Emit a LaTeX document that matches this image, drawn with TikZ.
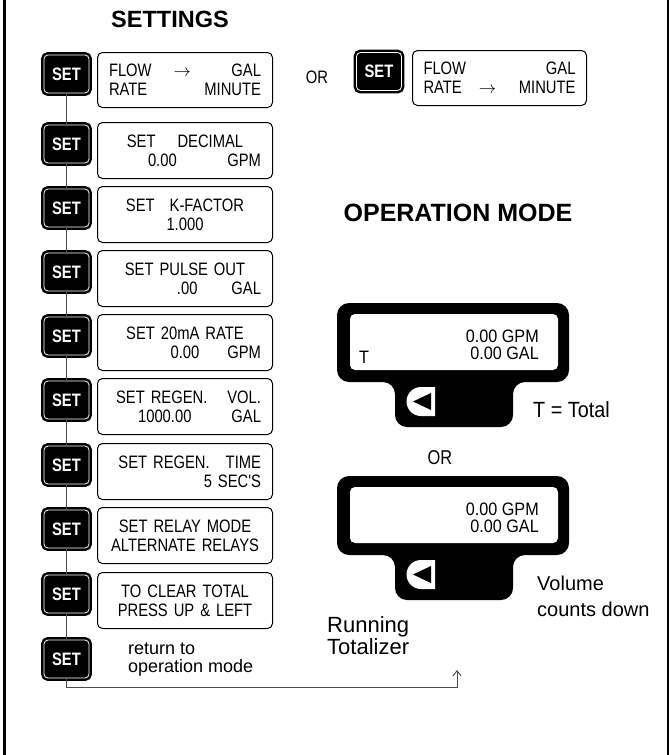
\documentclass[tikz,border=0pt]{standalone}
\usepackage{fontspec}
\setmainfont{Liberation Sans}
\newfontfamily\condfont[FakeStretch=0.82]{Liberation Sans}
\newfontfamily\readfont[FakeStretch=0.9]{Liberation Sans}
\usetikzlibrary{arrows.meta,positioning}
\newcommand\push{\hspace*{0pt plus 1filll}}

\tikzset{
  setbtn/.style={fill=black, draw=black, line width=2.5pt, double=white,
    double distance=0.8pt, rounded corners=4pt, minimum width=45pt,
    minimum height=38pt, inner sep=0pt, text=white,
    font=\condfont\bfseries\fontsize{18pt}{18pt}\selectfont},
  lcd/.style={draw=black, line width=1pt, rounded corners=5pt, anchor=north west,
    minimum width=175pt, minimum height=56pt, text width=152pt, align=center,
    inner sep=0pt, font=\condfont\fontsize{18pt}{19pt}\selectfont},
  readout/.style={align=right, anchor=east, inner sep=0pt,
    font=\readfont\fontsize{18pt}{17pt}\selectfont},
  link/.style={draw=black!70, line width=1pt},
  title/.style={anchor=base, inner sep=0pt, font=\bfseries\fontsize{23.5pt}{24pt}\selectfont},
  label/.style={align=left, anchor=west, inner sep=0pt}
}

\begin{document}
\begin{tikzpicture}[x=1pt, y=-1pt, >={Straight Barb[length=5pt,width=8pt]}]
\useasboundingbox (0,0) rectangle (670,755);
% frame
\draw[line width=2.5pt] (4.5,0) -- (4.5,755);
\draw[line width=2.5pt] (668,0) -- (668,755);

%--- Settings column ---
\node[title] (settings) at (170,27) {SETTINGS};
\foreach \yy [count=\i] in {52,122,186,250,314,378,443,507,572,637}
  \node[setbtn] (s\i) at (66.5,\yy+22) {SET};
\foreach \i [count=\j from 2] in {1,...,9}
  \draw[link] (s\i.south) -- (s\j.north);

\node[lcd, minimum height=55pt] (b1) at (97,52) {FLOW\hspace{22pt}$\rightarrow$\push GAL\\RATE\push MINUTE};
\node[lcd] (b2) at (97,122) {SET\hspace{22pt}DECIMAL\\\hspace*{39pt}0.00\push GPM};
\node[lcd] (b3) at (97,186) {SET\hspace{15pt}K-FACTOR\\1.000\hspace*{20pt}};
\node[lcd] (b4) at (97,250) {SET PULSE OUT\\\push .00\hspace{34pt}GAL};
\node[lcd] (b5) at (97,314) {SET 20mA RATE\\\push 0.00\hspace{28pt}GPM};
\node[lcd] (b6) at (97,378) {\push SET REGEN.\hspace{20pt}VOL.\\\push 1000.00\hspace{40pt}GAL};
\node[lcd] (b7) at (97,443) {\push SET REGEN.\hspace{16pt}TIME\hspace*{7pt}\\\push 5 SEC'S\hspace*{7pt}};
\node[lcd] (b8) at (97,507) {SET RELAY MODE\\ALTERNATE RELAYS};
\node[lcd] (b9) at (97,572) {TO CLEAR TOTAL\\PRESS UP \& LEFT};
\node[label, font=\fontsize{18pt}{18pt}\selectfont] (retlabel) at (128,660) {return to\\operation mode};

% return path
\coordinate (bend) at (66.5,687);
\coordinate (ret) at (457,670);
\draw[link,->] (s10.south) -- (bend) -| (ret);

%--- Alternative first step ---
\node[anchor=base, inner sep=0pt, font=\condfont\fontsize{18pt}{18pt}\selectfont] (ortop) at (317,83) {OR};
\node[setbtn] (setalt) at (379,71.5) {SET};
\node[lcd, minimum width=174pt, minimum height=55pt] (lcdalt) at (412,50) {FLOW\push GAL\\RATE\hspace{17pt}$\rightarrow$\push MINUTE};

%--- Operation mode ---
\node[title, font=\bfseries\fontsize{25pt}{25pt}\selectfont] (opmode) at (458,221) {OPERATION MODE};
\foreach \yy [count=\i] in {303,476}{
  \begin{scope}[shift={(337,\yy)}]
    \fill[rounded corners=12pt] (116,0) -- (232,0) -- (232,79) -- (176,79) -- (176,124)
      -- (58,124) -- (58,79) -- (0,79) -- (0,0) -- cycle;
    \fill[white, rounded corners=5pt] (13,11) rectangle (221,67);
    \fill[white] (98,84) -- (84,84) arc[start angle=270, end angle=90, radius=14.5] -- (98,113) -- cycle;
    \fill (76,98.5) -- (94,90) -- (94,107) -- cycle;
    \node[readout] (rd\i) at (202,42) {0.00 GPM\\0.00 GAL};
  \end{scope}
}
\node[readout, anchor=base west] (tmark) at (359,363) {T};
\node[anchor=base west, inner sep=0pt, font=\readfont\fontsize{22pt}{22pt}\selectfont] (total) at (533,417) {T = Total};
\node[anchor=base, inner sep=0pt, font=\condfont\fontsize{20pt}{20pt}\selectfont] (ormid) at (440,464) {OR};
\node[label, font=\fontsize{20pt}{26pt}\selectfont] (volume) at (537,596.5) {Volume\\counts down};
\node[label, font=\fontsize{22pt}{22pt}\selectfont] (running) at (327,636) {Running\\Totalizer};
\end{tikzpicture}
\end{document}
